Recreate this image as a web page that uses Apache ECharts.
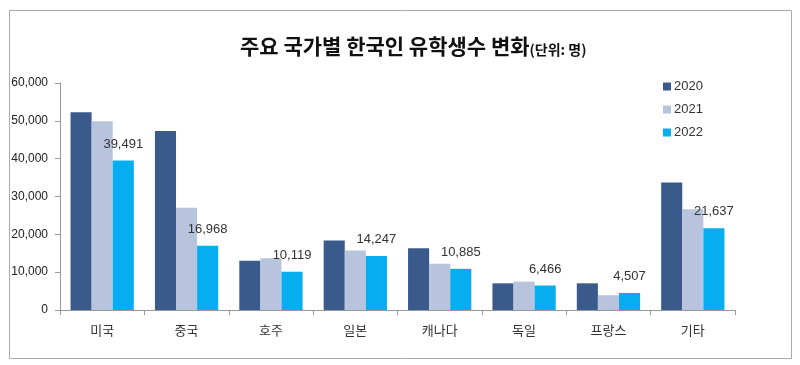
<!DOCTYPE html>
<html><head><meta charset="utf-8">
<script src="https://cdn.jsdelivr.net/npm/echarts@6/dist/echarts.min.js"></script>
<style>html,body{margin:0;padding:0;background:#fff}#c{width:800px;height:365px}</style>
</head><body><div id="c"></div>
<script>
const categories = ['미국','중국','호주','일본','캐나다','독일','프랑스','기타'];
const seriesNames = ['2020','2021','2022'];
const v2020 = [52300, 47300, 13000, 18400, 16300, 7050, 7050, 33700];
const v2021 = [49900, 27000, 13700, 15700, 12200, 7500, 3900, 26600];
const v2022 = [39491, 16968, 10119, 14247, 10885, 6466, 4507, 21637];
const yTicks = [0, 10000, 20000, 30000, 40000, 50000, 60000];
const colors = ['#3A5A8C', '#B8C3DD', '#06AEEF'];
const font = '"Noto Sans CJK KR", "Noto Sans", sans-serif';

const chart = echarts.init(document.getElementById('c'), null, {renderer: 'canvas'});
const fmt = v => v.toLocaleString('en-US');
chart.setOption({
  animation: false,
  textStyle: {fontFamily: font},
  title: {
    text: '{a|주요 국가별 한국인 유학생수 변화}{b|(단위: 명)}',
    left: 235, top: 31,
    textStyle: {
      rich: {
        a: {fontSize: 21, fontWeight: 'bold', color: '#111', fontFamily: font},
        b: {fontSize: 14, fontWeight: 'bold', color: '#111', fontFamily: font, verticalAlign: 'bottom', padding: [5,0,0,0]}
      }
    }
  },
  legend: {
    orient: 'vertical', left: 658, top: 75,
    itemWidth: 8, itemHeight: 8, itemGap: 10, icon: 'rect',
    textStyle: {fontSize: 13, color: '#333', fontFamily: 'Arial, "Liberation Sans", sans-serif', padding: [0,0,0,-2]},
    data: seriesNames
  },
  grid: {left: 60, right: 65, top: 83, bottom: 55, containLabel: false},
  xAxis: {
    type: 'category', data: categories,
    axisLine: {lineStyle: {color: '#999'}},
    axisTick: {show: true, length: 5, lineStyle: {color: '#999'}},
    axisLabel: {fontSize: 13, color: '#333', margin: 14}
  },
  yAxis: {
    type: 'value', min: yTicks[0], max: yTicks[yTicks.length-1], interval: 10000,
    axisLine: {show: true, lineStyle: {color: '#999'}},
    axisTick: {show: true, length: 5, lineStyle: {color: '#999'}},
    splitLine: {show: false},
    axisLabel: {fontSize: 12, color: '#222', margin: 12, fontFamily: 'Arial, "Liberation Sans", sans-serif', formatter: v => fmt(v)}
  },
  series: [
    {name: seriesNames[0], type: 'bar', data: v2020, itemStyle: {color: colors[0]}, barGap: '0%', barCategoryGap: '25%'},
    {name: seriesNames[1], type: 'bar', data: v2021, itemStyle: {color: colors[1]}, barGap: '0%', barCategoryGap: '25%'},
    {name: seriesNames[2], type: 'bar', data: v2022, itemStyle: {color: colors[2]}, barGap: '0%', barCategoryGap: '25%',
     label: {show: true, position: 'top', distance: 10, fontSize: 13, color: '#333', fontFamily: 'Arial, "Liberation Sans", sans-serif', formatter: p => fmt(p.value)}}
  ],
  graphic: [{
    type: 'rect', left: 7, top: 8, silent: true,
    shape: {width: 782, height: 348},
    style: {fill: 'none', stroke: '#aaa', lineWidth: 1}
  }]
});
</script></body></html>
